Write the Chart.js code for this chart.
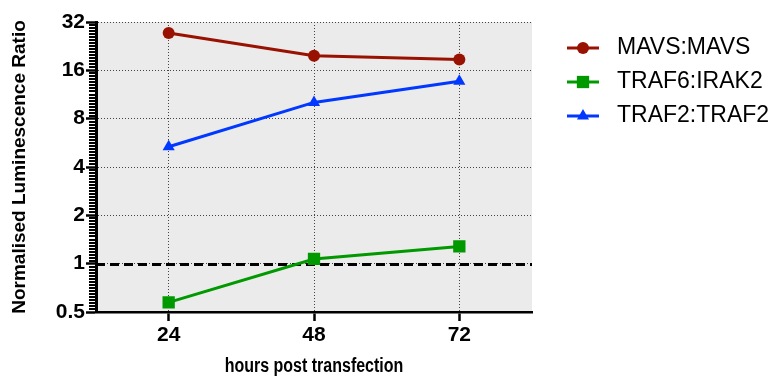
<!DOCTYPE html>
<html lang="en">
<head>
<meta charset="UTF-8">
<title>Normalised Luminescence Ratio</title>
<script src="https://cdn.jsdelivr.net/npm/chart.js"></script>
<style>
  body { margin: 0; background: #fff; }
  #chart { display: block; }
</style>
</head>
<body>
<canvas id="chart" width="774" height="376"></canvas>
<script>
// values (log2 y axis)
const hours = ['24', '48', '72'];
const mavs = [27.3, 19.7, 18.7];
const traf6 = [0.574, 1.07, 1.28];
const traf2 = [5.35, 10.1, 13.7];
const yTicks = [0.5, 1, 2, 4, 8, 16, 32];
const refLevel = 1;
const xTitle = 'hours post transfection';

const FONT = "'Liberation Sans', Arial, sans-serif";

// grey plot background
const plotBg = {
  id: 'plotBg',
  beforeDraw(chart) {
    const {ctx, chartArea: a} = chart;
    ctx.save();
    ctx.fillStyle = '#ebebeb';
    ctx.fillRect(a.left, a.top, a.right - a.left, a.bottom - a.top);
    ctx.restore();
  }
};

// dashed line at ratio 1
const refLine = {
  id: 'refLine',
  beforeDatasetsDraw(chart) {
    const {ctx, chartArea: a, scales: {y}} = chart;
    const py = Math.round(y.getPixelForValue(refLevel)) + 0.5;
    ctx.save();
    ctx.strokeStyle = '#000';
    ctx.lineWidth = 3;
    ctx.setLineDash([9, 5]);
    ctx.beginPath();
    ctx.moveTo(a.left, py);
    ctx.lineTo(a.right, py);
    ctx.stroke();
    ctx.restore();
  }
};

// minor y ticks (16 steps per doubling) and the condensed x title
const axisExtras = {
  id: 'axisExtras',
  afterDraw(chart) {
    const {ctx, scales: {x, y}} = chart;
    ctx.save();
    ctx.fillStyle = '#000';
    for (let i = 0; i < yTicks.length - 1; i++) {
      for (let j = 1; j < 16; j++) {
        const py = Math.round(y.getPixelForValue(yTicks[i] * Math.pow(2, j / 16)));
        ctx.fillRect(y.right - 7, py - 1, 7, 2);
      }
    }
    ctx.font = 'bold 20px ' + FONT;
    ctx.textAlign = 'center';
    ctx.textBaseline = 'alphabetic';
    ctx.translate((x.left + x.right) / 2, 372);
    ctx.scale(0.8, 1);
    ctx.fillText(xTitle, 0, 0);
    ctx.restore();
  }
};

// legend to the right: line + marker + label
const sideLegend = {
  id: 'sideLegend',
  afterDraw(chart) {
    const ctx = chart.ctx;
    chart.data.datasets.forEach((ds, i) => {
      const y = 48 + i * 34;
      ctx.save();
      ctx.strokeStyle = ds.borderColor;
      ctx.lineWidth = 3;
      ctx.beginPath();
      ctx.moveTo(567, y);
      ctx.lineTo(599, y);
      ctx.stroke();
      ctx.fillStyle = ds.pointBackgroundColor;
      Chart.helpers.drawPoint(ctx, {pointStyle: ds.pointStyle, radius: ds.pointRadius, borderWidth: 0, rotation: 0}, 583, y);
      ctx.fillStyle = '#000';
      ctx.font = '23px ' + FONT;
      ctx.textBaseline = 'middle';
      ctx.fillText(ds.label, 617, y);
      ctx.restore();
    });
  }
};

function series(label, data, color, style, r) {
  return {
    label: label, data: data,
    borderColor: color, backgroundColor: color,
    pointBackgroundColor: color, pointBorderColor: color, pointBorderWidth: 0,
    pointStyle: style, pointRadius: r, borderWidth: 3, tension: 0
  };
}

new Chart(document.getElementById('chart'), {
  type: 'line',
  data: {
    labels: hours,
    datasets: [
      series('MAVS:MAVS', mavs, '#991100', 'circle', 6),
      series('TRAF6:IRAK2', traf6, '#009900', 'rect', 8.7),
      series('TRAF2:TRAF2', traf2, '#0038ff', 'triangle', 7)
    ]
  },
  options: {
    responsive: false,
    animation: false,
    layout: {padding: {top: 22, right: 242, left: 0, bottom: 0}},
    plugins: {legend: {display: false}, tooltip: {enabled: false}},
    scales: {
      x: {
        type: 'category', offset: true,
        grid: {offset: false, color: '#444', lineWidth: 1, tickColor: '#000', tickWidth: 2.5, tickLength: 9},
        border: {color: '#000', width: 2.5, dash: [1, 2]},
        ticks: {color: '#000', padding: 2, font: {family: FONT, size: 21, weight: 'bold'}},
        afterFit(s) { s.height = 64; }
      },
      y: {
        type: 'logarithmic', min: 0.5, max: 32,
        afterBuildTicks(s) { s.ticks = yTicks.map(v => ({value: v})); },
        grid: {color: '#444', lineWidth: 1, tickColor: '#000', tickWidth: 2.5, tickLength: 10},
        border: {color: '#000', width: 3, dash: [1, 2]},
        ticks: {color: '#000', padding: 1, callback: v => String(v), font: {family: FONT, size: 21, weight: 'bold'}},
        title: {display: true, text: 'Normalised Luminescence Ratio', color: '#000', padding: {top: 8, bottom: 0},
                font: {family: FONT, size: 19, weight: 'bold'}},
        afterFit(s) { s.width = 96; }
      }
    }
  },
  plugins: [plotBg, refLine, axisExtras, sideLegend]
});
</script>
</body>
</html>
